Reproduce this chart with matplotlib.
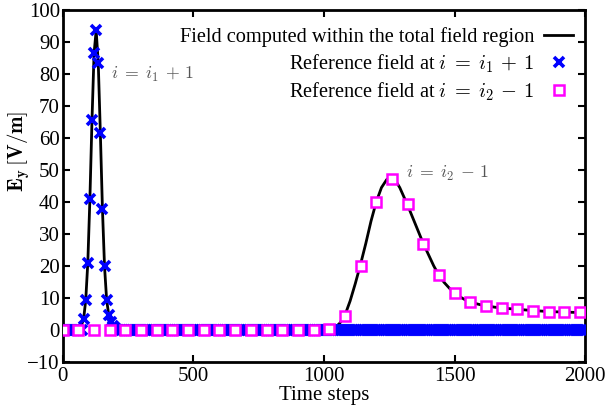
import matplotlib.pyplot as plt
import numpy as np

plt.rcParams['font.family'] = 'serif'
plt.rcParams['font.serif'] = ['Liberation Serif', 'DejaVu Serif']
plt.rcParams['mathtext.fontset'] = 'cm'

# field computed within the total field region (black line)
line_steps = [0, 60, 72, 80, 88, 96, 104, 112, 120, 128, 136, 144, 152, 160, 168,
              176, 184, 192, 200, 216, 240, 1000, 1020, 1040, 1060, 1080, 1100,
              1120, 1140, 1160, 1180, 1200, 1220, 1240, 1255, 1270, 1290, 1320,
              1340, 1360, 1380, 1400, 1420, 1440, 1460, 1480, 1500, 1520, 1540,
              1560, 1580, 1600, 1620, 1650, 1680, 1710, 1740, 1770, 1800, 1830,
              1860, 1890, 1920, 1950, 1980, 2000]
line_vals = [0, 0.3, 1.5, 3.4, 9.2, 21.0, 41.0, 65.6, 86.6, 93.7, 83.5, 61.6, 37.8,
             19.8, 9.4, 4.7, 2.5, 1.2, 0.5, 0.1, 0, 0, 0.1, 0.5, 2.0, 4.5, 9.0,
             14.5, 20.5, 27.0, 34.0, 40.0, 44.5, 47.0, 47.8, 47.2, 44.5, 39.0,
             35.0, 31.0, 27.0, 23.5, 20.0, 17.0, 14.8, 13.0, 11.5, 10.3, 9.4,
             8.7, 8.2, 7.8, 7.5, 7.1, 6.8, 6.6, 6.4, 6.2, 6.0, 5.85,
             5.7, 5.6, 5.55, 5.45, 5.4, 5.35]

# reference field at i = i1 + 1 (blue crosses, one every 8 steps)
ref1_steps = np.arange(0, 2001, 8)
ref1_peak = {80: 3.4, 88: 9.2, 96: 21.0, 104: 41.0, 112: 65.6, 120: 86.6,
             128: 93.7, 136: 83.5, 144: 61.6, 152: 37.8, 160: 19.8, 168: 9.4,
             176: 4.7, 184: 2.5, 192: 1.2, 200: 0.5}
ref1_vals = np.array([ref1_peak.get(int(s), 0.0) for s in ref1_steps])

# reference field at i = i2 - 1 (magenta squares)
ref2_steps = np.arange(0, 1981, 60)
ref2_vals = [0, 0, 0, 0, 0, 0, 0, 0, 0, 0, 0, 0, 0, 0, 0, 0, 0, 0.3,
             4.2, 20.1, 40.1, 47.1, 39.3, 26.9, 17.2, 11.5, 8.7, 7.5, 6.8,
             6.5, 6.0, 5.7, 5.6, 5.4]

fig = plt.figure(figsize=(6.09, 4.11), dpi=100)
ax = fig.add_axes([0.103, 0.12, 0.858, 0.855])

ax.plot(line_steps, line_vals, color='black', lw=2,
        label='Field computed within the total field region', zorder=2)
ax.plot(ref1_steps, ref1_vals, 'x', color='blue', ms=7.5, mew=2.6, ls='none',
        label=r'Reference field at $i\;=\;i_1\,+\,1$', zorder=3)
ax.plot(ref2_steps, ref2_vals, 's', color='magenta', mfc='white', ms=7.5, mew=1.8,
        ls='none', label=r'Reference field at $i\;=\;i_2\,-\,1$', zorder=4)

ax.text(184, 80, r'$i\;=\;i_1\,+\,1$', fontsize=12.8, color='#555555', va='center')
ax.text(1315, 49, r'$i\;=\;i_2\,-\,1$', fontsize=12.8, color='#555555', va='center')

ax.set_xlim(0, 2000)
ax.set_ylim(-10, 100)
ax.set_xticks([0, 500, 1000, 1500, 2000])
ax.set_yticks(np.arange(-10, 101, 10))
ax.tick_params(direction='in', top=True, right=True, length=5, width=1.5,
               labelsize=15, pad=2)
ax.tick_params(axis='x', pad=4)
for sp in ax.spines.values():
    sp.set_linewidth(2)

ax.set_xlabel('Time steps', fontsize=15, labelpad=0)
ax.set_ylabel(r'$\mathbf{E_y}\,[\mathbf{V/m}]$', fontsize=15)
ax.yaxis.set_label_coords(-0.058, 0.6)

ax.legend(loc='upper right', bbox_to_anchor=(1.0, 0.986), frameon=False,
          markerfirst=False, fontsize=14.7, handlelength=1.4, borderaxespad=0.2,
          labelspacing=0.25, handletextpad=0.5)

fig.savefig('out.png', dpi=100)
